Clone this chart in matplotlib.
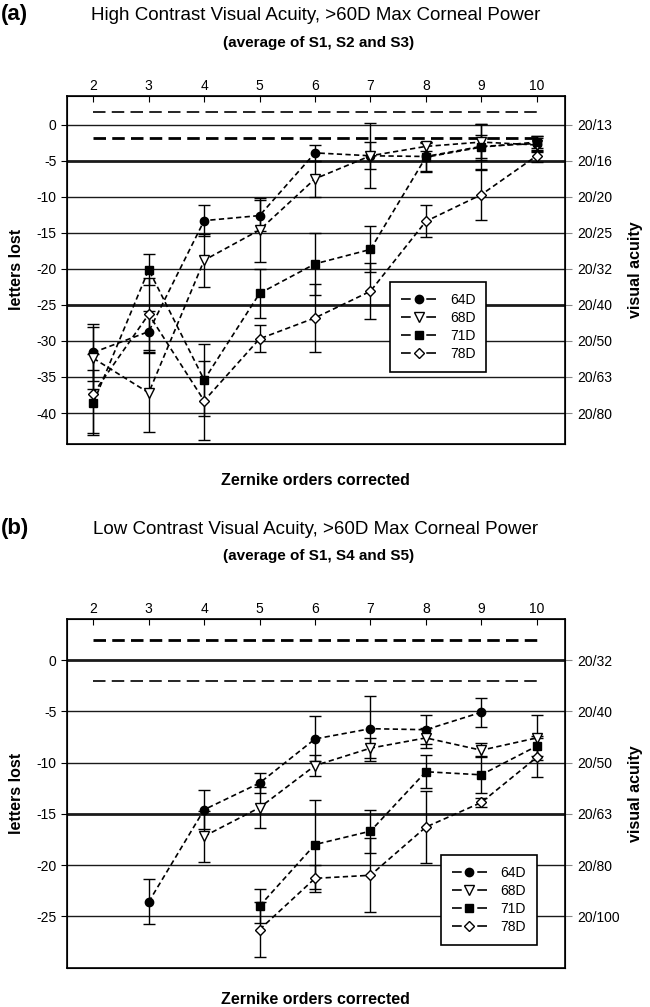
import matplotlib
matplotlib.use("Agg")
import matplotlib.pyplot as plt
from matplotlib.lines import Line2D

plt.rcParams['font.family'] = ['Liberation Sans', 'DejaVu Sans']
plt.rcParams['axes.unicode_minus'] = False
plt.rcParams['lines.scale_dashes'] = False

# ---- data ----
series_names = ['64D', '68D', '71D', '78D']
orders = [2, 3, 4, 5, 6, 7, 8, 9, 10]

# (a) high contrast
hc_x = {'64D': orders, '68D': orders, '71D': orders, '78D': orders}
hc_y = {
    '64D': [-31.6, -28.7, -13.3, -12.6, -3.9, -4.3, -4.4, -3.0, -2.6],
    '68D': [-32.4, -37.2, -18.8, -14.6, -7.5, -4.3, -3.0, -2.4, -2.8],
    '71D': [-38.6, -20.1, -35.4, -23.4, -19.3, -17.3, -4.5, -3.1, -2.4],
    '78D': [-37.3, -26.3, -38.3, -29.7, -26.8, -23.1, -13.4, -9.7, -4.3],
}
hc_err = {
    '64D': [4.0, 2.9, 2.2, 2.2, 1.1, 1.9, 2.0, 1.6, 1.0],
    '68D': [4.3, 5.5, 3.7, 4.4, 2.5, 4.5, 0.6, 2.5, 1.0],
    '71D': [4.5, 2.2, 5.0, 3.4, 4.3, 3.2, 2.0, 3.2, 0.8],
    '78D': [5.5, 5.0, 5.5, 1.9, 4.7, 3.9, 2.2, 3.5, 0.8],
}
hc_grid = [0, -5, -10, -15, -20, -25, -30, -35, -40]
hc_bold = [-5, -25]
hc_acuity = ['20/13', '20/16', '20/20', '20/25', '20/32', '20/40', '20/50', '20/63', '20/80']
hc_refs = [1.8, -1.8]

# (b) low contrast
lc_x = {'64D': [3, 4, 5, 6, 7, 8, 9], '68D': [4, 5, 6, 7, 8, 9, 10],
        '71D': [5, 6, 7, 8, 9, 10], '78D': [5, 6, 7, 8, 9, 10]}
lc_y = {
    '64D': [-23.6, -14.6, -12.0, -7.7, -6.7, -6.8, -5.1],
    '68D': [-17.2, -14.4, -10.3, -8.6, -7.6, -8.8, -7.6],
    '71D': [-24.0, -18.0, -16.7, -10.9, -11.2, -8.4],
    '78D': [-26.3, -21.3, -21.0, -16.3, -13.9, -9.5],
}
lc_err = {
    '64D': [2.2, 1.9, 1.0, 2.2, 3.2, 1.4, 1.4],
    '68D': [2.5, 2.0, 1.0, 1.0, 1.0, 0.7, 2.2],
    '71D': [1.7, 4.3, 2.1, 1.6, 1.8, 1.0],
    '78D': [2.7, 1.3, 3.6, 3.5, 0.4, 1.9],
}
lc_grid = [0, -5, -10, -15, -20, -25]
lc_bold = [0, -15]
lc_acuity = ['20/32', '20/40', '20/50', '20/63', '20/80', '20/100']
lc_refs = [2.0, -2.0]

markers = {'64D': ('o', 'k', 6), '68D': ('v', 'white', 7),
           '71D': ('s', 'k', 5.5), '78D': ('D', 'white', 5.5)}


def draw_panel(ax, xs, ys, errs, grid, bold, acuity, refs, ylim, ref_lw, leg_anchor):
    ax.set_xlim(1.52, 10.51)
    ax.set_ylim(*ylim)
    for g in grid:
        ax.axhline(g, color='#1a1a1a', lw=2.0 if g in bold else 1.0, zorder=1)
    for r, lw in zip(refs, ref_lw):
        ax.plot([2, 10], [r, r], color='k', lw=lw, ls=(0, (9, 4.5)), zorder=2)
    for name in series_names:
        m, fc, ms = markers[name]
        ax.errorbar(xs[name], ys[name], yerr=errs[name], color='k', ls=(0, (3.8, 2.4)),
                    lw=1.2, marker=m, mfc=fc, mec='k', mew=1.0, ms=ms,
                    ecolor='k', elinewidth=1.0, capsize=4, capthick=1.0, zorder=3)

    ax.xaxis.tick_top()
    ax.set_xticks(orders)
    ax.tick_params(axis='x', direction='in', length=4, labelsize=10, pad=2)
    ax.set_yticks(grid)
    ax.set_yticklabels([str(g) for g in grid])
    ax.tick_params(axis='y', direction='out', length=4, labelsize=10)
    for s in ax.spines.values():
        s.set_linewidth(1.2)

    ax2 = ax.twinx()
    ax2.set_ylim(*ylim)
    ax2.set_yticks(grid)
    ax2.set_yticklabels(acuity)
    ax2.tick_params(axis='y', direction='out', length=5, labelsize=10, color='#888888', pad=4)

    handles = [Line2D([], [], color='k', lw=1.2, ls=(0, (7, 11.2)), marker=markers[n][0],
                      mfc=markers[n][1], mec='k', ms=markers[n][2]) for n in series_names]
    leg = ax.legend(handles, series_names, loc='upper left', bbox_to_anchor=leg_anchor,
                    fontsize=10, frameon=True, fancybox=False, edgecolor='k',
                    framealpha=1, borderpad=0.8, labelspacing=0.28, handlelength=2.5,
                    handletextpad=1.0, borderaxespad=0)
    leg.get_frame().set_linewidth(1.2)
    leg.set_zorder(5)


fig = plt.figure(figsize=(6.5, 10.07), dpi=100)

ax_a = fig.add_axes([0.1026, 0.5591, 0.7666, 0.3456])
draw_panel(ax_a, hc_x, hc_y, hc_err, hc_grid, hc_bold, hc_acuity, hc_refs,
           (-44.3, 4.0), (1.2, 2.0), (0.649, 0.466))

ax_b = fig.add_axes([0.1026, 0.0392, 0.7666, 0.3461])
draw_panel(ax_b, lc_x, lc_y, lc_err, lc_grid, lc_bold, lc_acuity, lc_refs,
           (-30.0, 4.0), (2.0, 1.2), (0.751, 0.323))

# titles and labels
fig.text(0.002, 0.986, '(a)', fontsize=16, fontweight='bold', ha='left', va='center')
fig.text(0.486, 0.985, 'High Contrast Visual Acuity, >60D Max Corneal Power',
         fontsize=13.5, ha='center', va='center')
fig.text(0.490, 0.957, '(average of S1, S2 and S3)', fontsize=11, fontweight='bold',
         ha='center', va='center')
fig.text(0.002, 0.475, '(b)', fontsize=16, fontweight='bold', ha='left', va='center')
fig.text(0.486, 0.474, 'Low Contrast Visual Acuity, >60D Max Corneal Power',
         fontsize=13.5, ha='center', va='center')
fig.text(0.490, 0.448, '(average of S1, S4 and S5)', fontsize=11, fontweight='bold',
         ha='center', va='center')

for yc, yx in [(0.732, 0.523), (0.212, 0.007)]:
    fig.text(0.025, yc, 'letters lost', fontsize=11.5, fontweight='bold',
             rotation=90, ha='center', va='center')
    fig.text(0.977, yc, 'visual acuity', fontsize=11.5, fontweight='bold',
             rotation=90, ha='center', va='center')
    fig.text(0.486, yx, 'Zernike orders corrected', fontsize=11.5, fontweight='bold',
             ha='center', va='center')

fig.savefig('out.png', dpi=100)
